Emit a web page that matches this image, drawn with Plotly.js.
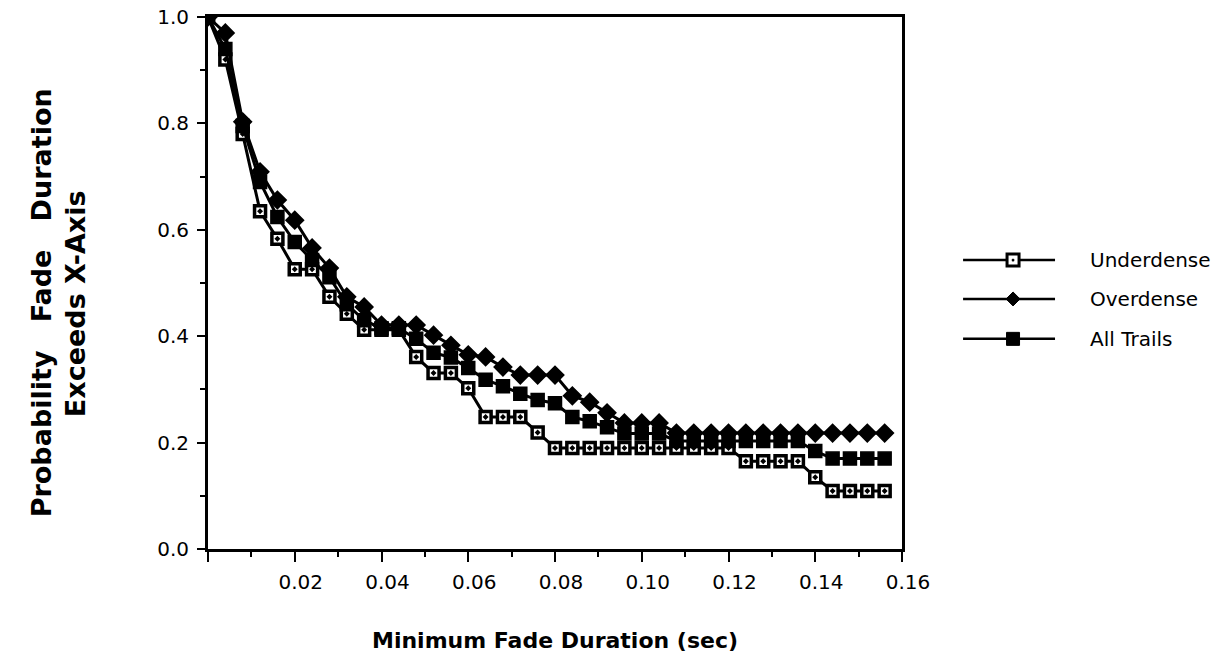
<!DOCTYPE html>
<html>
<head>
<meta charset="utf-8">
<script src="https://cdn.plot.ly/plotly-3.0.1.min.js"></script>
<style>
  html, body { margin: 0; padding: 0; background: #ffffff; }
  #chart { width: 1230px; height: 657px; }
</style>
</head>
<body>
<div id="chart"></div>
<script>
// Minimum fade duration (sec)
const fadeDuration = [0.000, 0.004, 0.008, 0.012, 0.016, 0.020, 0.024, 0.028, 0.032, 0.036,
                      0.040, 0.044, 0.048, 0.052, 0.056, 0.060, 0.064, 0.068, 0.072, 0.076,
                      0.080, 0.084, 0.088, 0.092, 0.096, 0.100, 0.104, 0.108, 0.112, 0.116,
                      0.120, 0.124, 0.128, 0.132, 0.136, 0.140, 0.144, 0.148, 0.152, 0.156];

const underdense = [1.000, 0.920, 0.780, 0.635, 0.583, 0.526, 0.526, 0.474, 0.442, 0.412,
                    0.412, 0.412, 0.361, 0.331, 0.331, 0.302, 0.248, 0.248, 0.248, 0.219,
                    0.190, 0.190, 0.190, 0.190, 0.190, 0.190, 0.190, 0.190, 0.190, 0.190,
                    0.190, 0.165, 0.165, 0.165, 0.165, 0.135, 0.109, 0.109, 0.109, 0.109];

const overdense  = [1.000, 0.970, 0.803, 0.709, 0.656, 0.618, 0.566, 0.528, 0.474, 0.455,
                    0.421, 0.421, 0.421, 0.402, 0.383, 0.365, 0.361, 0.342, 0.327, 0.327,
                    0.327, 0.288, 0.276, 0.256, 0.237, 0.237, 0.237, 0.218, 0.218, 0.218,
                    0.218, 0.218, 0.218, 0.218, 0.218, 0.218, 0.218, 0.218, 0.218, 0.218];

const allTrails  = [1.000, 0.940, 0.795, 0.690, 0.624, 0.577, 0.543, 0.511, 0.460, 0.430,
                    0.415, 0.415, 0.395, 0.369, 0.360, 0.340, 0.318, 0.306, 0.292, 0.280,
                    0.274, 0.248, 0.240, 0.229, 0.217, 0.217, 0.217, 0.203, 0.203, 0.203,
                    0.203, 0.203, 0.203, 0.203, 0.203, 0.184, 0.170, 0.170, 0.170, 0.170];

const seriesNames = ['Underdense', 'Overdense', 'All Trails'];
const xTickVals   = [0, 0.02, 0.04, 0.06, 0.08, 0.10, 0.12, 0.14, 0.16];
const xTickText   = ['', '0.02', '0.04', '0.06', '0.08', '0.10', '0.12', '0.14', '0.16'];
const yTickVals   = [0, 0.2, 0.4, 0.6, 0.8, 1.0];
const yTickText   = ['0.0', '0.2', '0.4', '0.6', '0.8', '1.0'];

const FONT = 'DejaVu Sans, Liberation Sans, Arial, sans-serif';

const traces = [
  {
    x: fadeDuration, y: underdense, name: seriesNames[0], type: 'scatter', mode: 'lines+markers',
    line: {color: '#000', width: 3},
    marker: {symbol: 'square-dot', size: 11, color: '#fff', line: {color: '#000', width: 3.5}},
    showlegend: false
  },
  {
    x: fadeDuration, y: overdense, name: seriesNames[1], type: 'scatter', mode: 'lines+markers',
    line: {color: '#000', width: 3},
    marker: {symbol: 'diamond', size: 13, color: '#000', line: {color: '#000', width: 2}},
    showlegend: false
  },
  {
    x: fadeDuration, y: allTrails, name: seriesNames[2], type: 'scatter', mode: 'lines+markers',
    line: {color: '#000', width: 3},
    marker: {symbol: 'square', size: 13, color: '#000', line: {color: '#000', width: 1.5}},
    showlegend: false
  }
];

// Manual legend (long line with marker in the middle, as in the reference)
const legRows = [0.543, 0.470, 0.395];
const legX0 = 1.088, legX1 = 1.2205, legXm = 1.160, legText = 1.268;
const shapes = [];
const annotations = [];
legRows.forEach((yy, i) => {
  shapes.push({type: 'line', xref: 'paper', yref: 'paper', x0: legX0, x1: legX1, y0: yy, y1: yy,
               line: {color: '#000', width: 2.5}});
  annotations.push({xref: 'paper', yref: 'paper', x: legText, y: yy, xanchor: 'left', yanchor: 'middle',
                    text: seriesNames[i], showarrow: false, font: {family: FONT, size: 20, color: '#000'}});
});
// Underdense marker: white square, black border, tiny dot
shapes.push({type: 'rect', xref: 'paper', yref: 'paper', xsizemode: 'pixel', ysizemode: 'pixel',
             xanchor: legXm, yanchor: legRows[0], x0: -6, x1: 6, y0: -6, y1: 6,
             fillcolor: '#fff', line: {color: '#000', width: 3}});
shapes.push({type: 'rect', xref: 'paper', yref: 'paper', xsizemode: 'pixel', ysizemode: 'pixel',
             xanchor: legXm, yanchor: legRows[0], x0: -1, x1: 1, y0: -1, y1: 1,
             fillcolor: '#000', line: {color: '#000', width: 0.5}});
// Overdense marker: diamond
shapes.push({type: 'path', xref: 'paper', yref: 'paper', xsizemode: 'pixel', ysizemode: 'pixel',
             xanchor: legXm, yanchor: legRows[1], path: 'M0,-7 L7,0 L0,7 L-7,0 Z',
             fillcolor: '#000', line: {color: '#000', width: 1}});
// All trails marker: filled square
shapes.push({type: 'rect', xref: 'paper', yref: 'paper', xsizemode: 'pixel', ysizemode: 'pixel',
             xanchor: legXm, yanchor: legRows[2], x0: -6.5, x1: 6.5, y0: -6.5, y1: 6.5,
             fillcolor: '#000', line: {color: '#000', width: 1}});

// Y-axis title (two lines, rotated)
annotations.push({xref: 'paper', yref: 'paper', x: -0.2405, y: 0.462, xanchor: 'center', yanchor: 'middle',
                  textangle: -90, showarrow: false,
                  text: '<b>Probability\u00a0\u00a0 Fade\u00a0\u00a0 Duration</b>',
                  font: {family: FONT, size: 27, color: '#000'}});
annotations.push({xref: 'paper', yref: 'paper', x: -0.1917, y: 0.462, xanchor: 'center', yanchor: 'middle',
                  textangle: -90, showarrow: false,
                  text: '<b>Exceeds X-Axis</b>',
                  font: {family: FONT, size: 27, color: '#000'}});

const layout = {
  width: 1230, height: 657,
  margin: {l: 208, r: 328, t: 17, b: 108, pad: 0},
  paper_bgcolor: '#fff', plot_bgcolor: '#fff',
  font: {family: FONT, color: '#000'},
  showlegend: false,
  xaxis: {
    range: [0, 0.16], autorange: false,
    showline: true, linecolor: '#000', linewidth: 3, mirror: true,
    showgrid: false, zeroline: false,
    tickmode: 'array', tickvals: xTickVals, ticktext: xTickText,
    ticks: 'outside', ticklen: 10, tickwidth: 2, tickcolor: '#000',
    ticklabelstandoff: 3, ticklabelshift: 6,
    tickfont: {family: FONT, size: 20, color: '#000'},
    minor: {tickmode: 'linear', tick0: 0, dtick: 0.01, ticks: 'outside', ticklen: 5, tickwidth: 2, tickcolor: '#000', showgrid: false},
    title: {text: '<b>Minimum Fade Duration (sec)</b>', font: {family: FONT, size: 22, color: '#000'}, standoff: 40}
  },
  yaxis: {
    range: [0, 1.0], autorange: false,
    showline: true, linecolor: '#000', linewidth: 3, mirror: true,
    showgrid: false, zeroline: false,
    tickmode: 'array', tickvals: yTickVals, ticktext: yTickText,
    ticks: 'outside', ticklen: 8, tickwidth: 2, tickcolor: '#000',
    ticklabelstandoff: 4,
    tickfont: {family: FONT, size: 20, color: '#000'},
    minor: {tickmode: 'linear', tick0: 0, dtick: 0.1, ticks: 'outside', ticklen: 5, tickwidth: 2, tickcolor: '#000', showgrid: false}
  },
  shapes: shapes,
  annotations: annotations
};

Plotly.newPlot('chart', traces, layout, {displayModeBar: false, staticPlot: true});
</script>
</body>
</html>
